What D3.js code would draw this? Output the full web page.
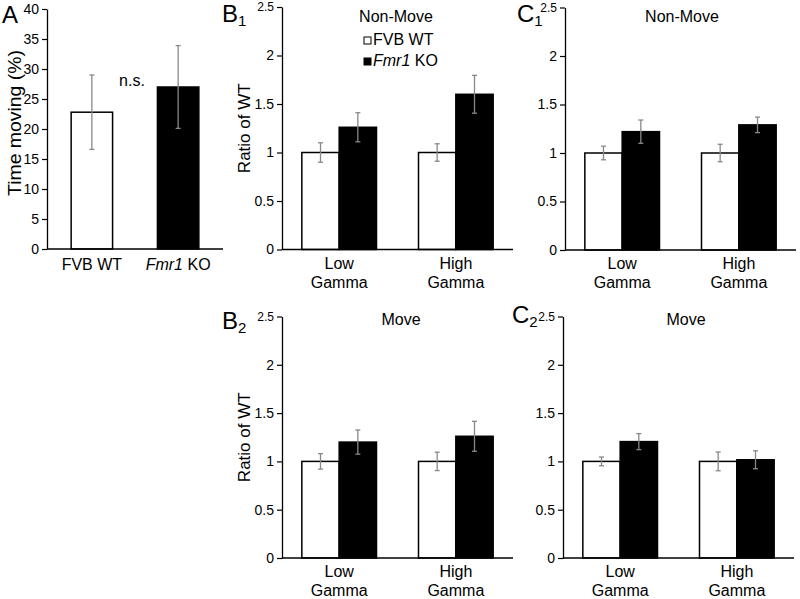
<!DOCTYPE html>
<html><head><meta charset="utf-8">
<script src="https://cdn.jsdelivr.net/npm/d3@7"></script>
<style>
body{margin:0;background:#fff;}
svg{display:block;font-family:"Liberation Sans",Arial,sans-serif;}
</style></head>
<body>
<svg id="chart" width="800" height="599"></svg>
<script>
// ---------- data ----------
const aCategories = ["FVB WT", "Fmr1 KO"];
const aMeans = [22.8, 27.0];
const aSem = [6.2, 6.9];
const aTicks = [0, 5, 10, 15, 20, 25, 30, 35, 40];

const groups = ["Low Gamma", "High Gamma"];
const ratioTicks = [0, 0.5, 1, 1.5, 2, 2.5];
const series = ["FVB WT", "Fmr1 KO"];

const b1Wt = [1.0, 1.0],  b1WtErr = [0.10, 0.09],  b1Ko = [1.26, 1.60], b1KoErr = [0.15, 0.195];
const c1Wt = [1.0, 1.0],  c1WtErr = [0.07, 0.09],  c1Ko = [1.22, 1.29], c1KoErr = [0.12, 0.08];
const b2Wt = [1.0, 1.0],  b2WtErr = [0.08, 0.095], b2Ko = [1.20, 1.26], b2KoErr = [0.125, 0.155];
const c2Wt = [1.0, 1.0],  c2WtErr = [0.045, 0.097], c2Ko = [1.205, 1.017], c2KoErr = [0.083, 0.093];

// ---------- drawing ----------
const svg = d3.select("#chart");
const ERR = "#888";

function errBar(g, x, yHi, yLo) {
  g.append("line").attr("x1", x).attr("x2", x).attr("y1", yHi).attr("y2", yLo)
    .attr("stroke", ERR).attr("stroke-width", 1.3);
  [yHi, yLo].forEach(v => g.append("line").attr("x1", x - 2.5).attr("x2", x + 2.5)
    .attr("y1", v).attr("y2", v).attr("stroke", ERR).attr("stroke-width", 1.3));
}

function yAxis(g, y, ticks, x0, fmt) {
  const ax = d3.axisLeft(y).tickValues(ticks).tickSize(5).tickSizeOuter(0).tickPadding(3).tickFormat(fmt);
  const a = g.append("g").attr("transform", `translate(${x0},0)`).call(ax);
  a.select(".domain").attr("stroke", "#000").attr("stroke-width", 1.3);
  a.selectAll(".tick line").attr("stroke", "#000").attr("stroke-width", 1.2);
  a.selectAll(".tick text").attr("font-size", 14).attr("fill", "#000")
    .attr("font-family", '"Liberation Sans",Arial,sans-serif');
  return a;
}

// Panel A
(function () {
  const g = svg.append("g");
  const y = d3.scaleLinear().domain([0, 40]).range([249, 9]);
  const x = d3.scaleBand().domain(aCategories).range([47, 223]).paddingInner(0.52).paddingOuter(0.28);
  aCategories.forEach((c, i) => {
    g.append("rect").attr("x", x(c)).attr("width", x.bandwidth())
      .attr("y", y(aMeans[i])).attr("height", y(0) - y(aMeans[i]))
      .attr("fill", i === 0 ? "#fff" : "#000").attr("stroke", "#000").attr("stroke-width", 1.5);
  });
  aCategories.forEach((c, i) => {
    const cx = x(c) + x.bandwidth() / 2;
    errBar(g, cx, y(aMeans[i] + aSem[i]), y(aMeans[i] - aSem[i]));
  });
  yAxis(g, y, aTicks, 47, d3.format("d"));
  g.append("line").attr("x1", 47).attr("x2", 223).attr("y1", y(0)).attr("y2", y(0))
    .attr("stroke", "#000").attr("stroke-width", 1.3);
  g.append("text").attr("x", x(aCategories[0]) + x.bandwidth() / 2).attr("y", 270)
    .attr("text-anchor", "middle").attr("font-size", 16).text(aCategories[0]);
  const t1 = g.append("text").attr("x", x(aCategories[1]) + x.bandwidth() / 2).attr("y", 270)
    .attr("text-anchor", "middle").attr("font-size", 16);
  t1.append("tspan").attr("font-style", "italic").text("Fmr1");
  t1.append("tspan").text(" KO");
  g.append("text").attr("transform", "translate(21,123) rotate(-90)").attr("text-anchor", "middle")
    .attr("font-size", 18).attr("textLength", 146).attr("lengthAdjust", "spacingAndGlyphs").text("Time moving (%)");
  g.append("text").attr("x", 132).attr("y", 86).attr("text-anchor", "middle").attr("font-size", 16).text("n.s.");
  g.append("text").attr("x", 2).attr("y", 23).attr("font-size", 24).text("A");
})();

function ratioPanel(opt) {
  const g = svg.append("g");
  const y = d3.scaleLinear().domain([0, 2.5]).range([opt.y0, opt.y1]);
  const x = d3.scaleBand().domain(groups).range([opt.x0, opt.x0 + 231]).paddingInner(0.36).paddingOuter(0.17);
  const xs = d3.scaleBand().domain(series).range([0, x.bandwidth()]);
  groups.forEach((grp, i) => {
    [[opt.wt, "#fff"], [opt.ko, "#000"]].forEach(([vals, col], s) => {
      g.append("rect").attr("x", x(grp) + xs(series[s])).attr("width", xs.bandwidth())
        .attr("y", y(vals[i])).attr("height", y(0) - y(vals[i]))
        .attr("fill", col).attr("stroke", "#000").attr("stroke-width", 1.5);
    });
  });
  groups.forEach((grp, i) => {
    [[opt.wt, opt.wtErr], [opt.ko, opt.koErr]].forEach(([vals, errs], s) => {
      const cx = x(grp) + xs(series[s]) + xs.bandwidth() / 2;
      errBar(g, cx, y(vals[i] + errs[i]), y(vals[i] - errs[i]));
    });
  });
  const a = yAxis(g, y, ratioTicks, opt.x0, d => d);
  a.selectAll(".tick text").filter(d => d === 2.5).attr("font-size", 12);
  g.append("line").attr("x1", opt.x0).attr("x2", opt.x0 + 231).attr("y1", y(0)).attr("y2", y(0))
    .attr("stroke", "#000").attr("stroke-width", 1.3);
  groups.forEach(grp => {
    const [w1, w2] = grp.split(" ");
    const cx = x(grp) + x.bandwidth() / 2;
    g.append("text").attr("x", cx).attr("y", opt.lab1).attr("text-anchor", "middle").attr("font-size", 16).text(w1);
    g.append("text").attr("x", cx).attr("y", opt.lab1 + 19).attr("text-anchor", "middle").attr("font-size", 16).text(w2);
  });
  g.append("text").attr("x", opt.titleX).attr("y", opt.titleY).attr("text-anchor", "middle")
    .attr("font-size", 16).text(opt.title);
  if (opt.ylabel) {
    g.append("text").attr("transform", `translate(${opt.x0 - 32},${(opt.y0 + opt.y1) / 2}) rotate(-90)`)
      .attr("text-anchor", "middle").attr("font-size", 17).text("Ratio of WT");
  }
  const pl = g.append("text").attr("x", opt.px).attr("y", opt.py).attr("font-size", 24);
  pl.append("tspan").text(opt.letter);
  pl.append("tspan").attr("font-size", 15).attr("dy", 4).text(opt.sub);
  return g;
}

ratioPanel({x0: 282, y0: 249.5, y1: 7, wt: b1Wt, wtErr: b1WtErr, ko: b1Ko, koErr: b1KoErr,
  lab1: 269, title: "Non-Move", titleX: 396, titleY: 22, ylabel: true, px: 222, py: 22, letter: "B", sub: "1"});
ratioPanel({x0: 565, y0: 250, y1: 7.5, wt: c1Wt, wtErr: c1WtErr, ko: c1Ko, koErr: c1KoErr,
  lab1: 269, title: "Non-Move", titleX: 682, titleY: 22, ylabel: false, px: 517, py: 22, letter: "C", sub: "1"});
ratioPanel({x0: 282, y0: 558, y1: 316.5, wt: b2Wt, wtErr: b2WtErr, ko: b2Ko, koErr: b2KoErr,
  lab1: 577, title: "Move", titleX: 401, titleY: 325, ylabel: true, px: 222, py: 329, letter: "B", sub: "2"});
ratioPanel({x0: 563, y0: 558, y1: 316.5, wt: c2Wt, wtErr: c2WtErr, ko: c2Ko, koErr: c2KoErr,
  lab1: 577, title: "Move", titleX: 686, titleY: 325, ylabel: false, px: 512, py: 323, letter: "C", sub: "2"});

// Legend (in B1)
const leg = svg.append("g");
series.forEach((s, i) => {
  const yy = 37 + i * 21;
  leg.append("rect").attr("x", 364).attr("y", yy).attr("width", 7).attr("height", 7)
    .attr("fill", i === 0 ? "#fff" : "#000").attr("stroke", "#000").attr("stroke-width", 1);
  const t = leg.append("text").attr("x", 373).attr("y", yy + 8).attr("font-size", 16);
  if (i === 0) t.text(s);
  else { t.append("tspan").attr("font-style", "italic").text("Fmr1"); t.append("tspan").text(" KO"); }
});
</script>
</body></html>
